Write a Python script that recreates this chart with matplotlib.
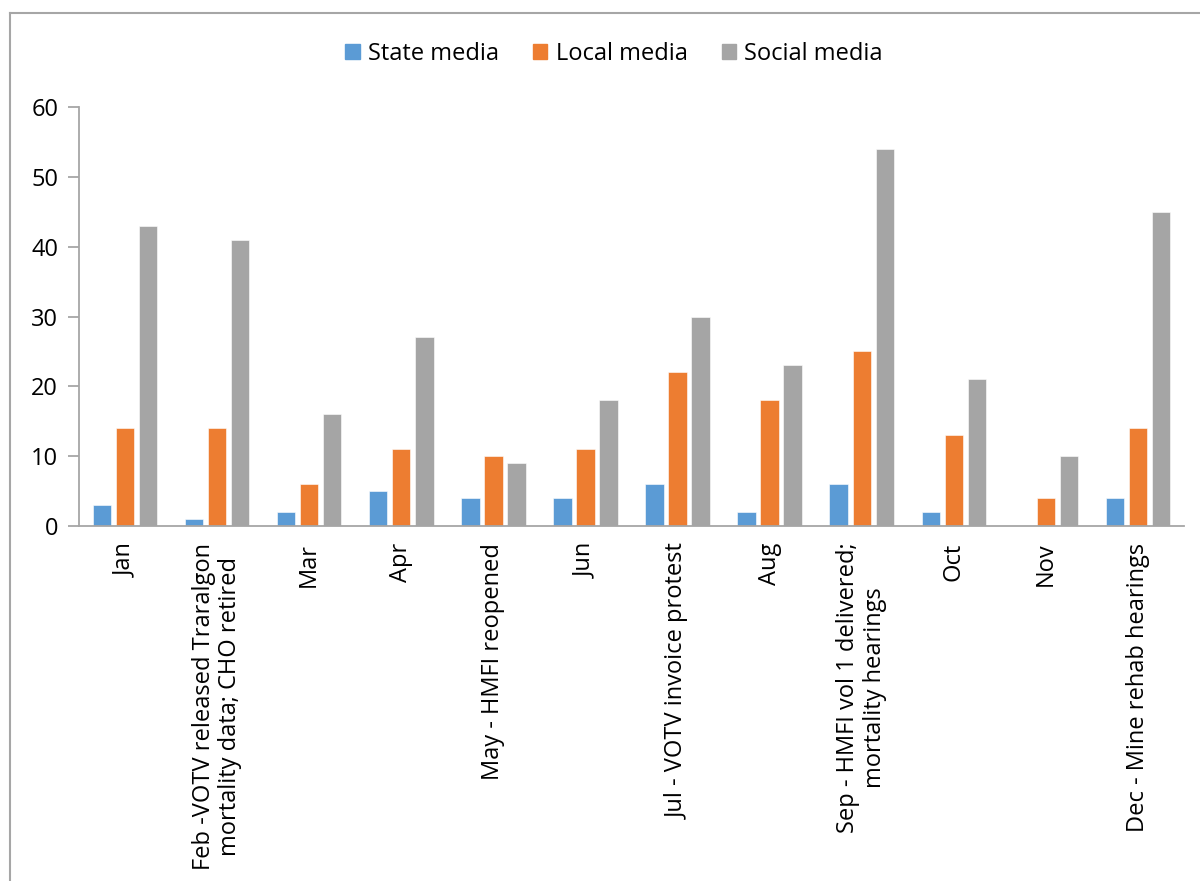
import matplotlib
matplotlib.use("Agg")
import matplotlib.pyplot as plt
import matplotlib.patches as mpatches
from matplotlib.lines import Line2D
import numpy as np

plt.rcParams['font.family'] = ['Open Sans', 'DejaVu Sans']

categories = ['Jan',
              'Feb -VOTV released Traralgon\nmortality data; CHO retired',
              'Mar',
              'Apr',
              'May - HMFI reopened',
              'Jun',
              'Jul - VOTV invoice protest',
              'Aug',
              'Sep - HMFI vol 1 delivered;\nmortality hearings',
              'Oct',
              'Nov',
              'Dec - Mine rehab hearings']
state_media = [3, 1, 2, 5, 4, 4, 6, 2, 6, 2, 0, 4]
local_media = [14, 14, 6, 11, 10, 11, 22, 18, 25, 13, 4, 14]
social_media = [43, 41, 16, 27, 9, 18, 30, 23, 54, 21, 10, 45]

series = [('State media', state_media, '#5B9BD5'),
          ('Local media', local_media, '#ED7D31'),
          ('Social media', social_media, '#A5A5A5')]

W, H = 1200, 881
fig = plt.figure(figsize=(W/100, H/100), dpi=100)
ax = fig.add_axes([79/W, 1-526/H, (1184-79)/W, (526-107)/H])

x = np.arange(len(categories))
width = 0.2
step = 0.25
for i, (name, vals, col) in enumerate(series):
    ax.bar(x + (i-1)*step, vals, width, color=col, label=name,
           edgecolor='white', linewidth=0.4)

ax.set_xlim(-0.5, len(categories)-0.5)
ax.set_ylim(0, 60)
ax.set_yticks(range(0, 61, 10))
ax.set_xticks(x)
ax.set_xticklabels(categories, rotation=90, ha='center', va='top',
                   multialignment='center', fontsize=17, linespacing=1.15)
ax.tick_params(axis='x', length=0, pad=12)
ax.tick_params(axis='y', length=8, width=1.3, color='#A6A6A6', labelsize=17, pad=7)
for s in ['top', 'right']:
    ax.spines[s].set_visible(False)
for s in ['left', 'bottom']:
    ax.spines[s].set_color('#A6A6A6')
    ax.spines[s].set_linewidth(1.3)

handles = [mpatches.Patch(color=c, label=n) for n, v, c in series]
fig.legend(handles=handles, loc='center', bbox_to_anchor=(614/W, 1-54/H), ncol=3,
           frameon=False, fontsize=17, handlelength=0.6, handleheight=0.6,
           handletextpad=0.35, columnspacing=1.45)

# chart frame, left and top edges
fig.add_artist(Line2D([10/W, 10/W], [0, 1-13/H], color='#A6A6A6', lw=1.5))
fig.add_artist(Line2D([10/W, 1], [1-13/H, 1-13/H], color='#A6A6A6', lw=1.5))

fig.savefig('out.png', dpi=100)
